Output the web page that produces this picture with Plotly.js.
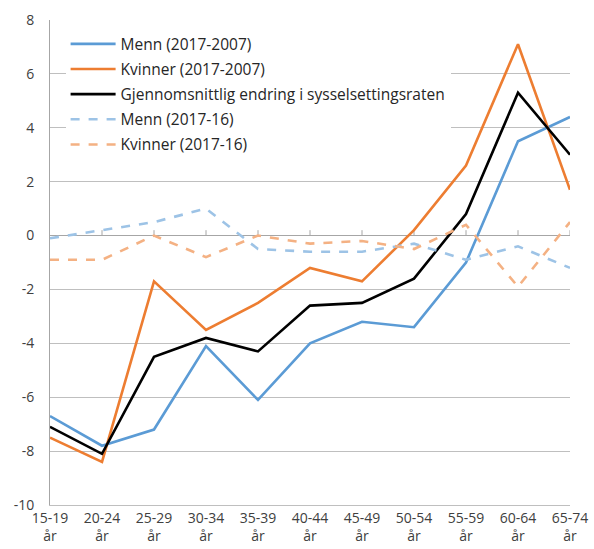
<!DOCTYPE html>
<html><head><meta charset="utf-8">
<script src="https://cdn.plot.ly/plotly-3.0.1.min.js"></script>
<style>html,body{margin:0;padding:0;background:#fff;}#chart{width:594px;height:549px;}</style>
</head><body><div id="chart"></div>
<script>
const categories = ["15-19<br>år","20-24<br>år","25-29<br>år","30-34<br>år","35-39<br>år","40-44<br>år","45-49<br>år","50-54<br>år","55-59<br>år","60-64<br>år","65-74<br>år"];
const menn0717 = [-6.7,-7.8,-7.2,-4.1,-6.1,-4.0,-3.2,-3.4,-1.0,3.5,4.4];
const kvinner0717 = [-7.5,-8.4,-1.7,-3.5,-2.5,-1.2,-1.7,0.2,2.6,7.1,1.7];
const gjennomsnitt = [-7.1,-8.1,-4.5,-3.8,-4.3,-2.6,-2.5,-1.6,0.8,5.3,3.0];
const menn1617 = [-0.1,0.2,0.5,1.0,-0.5,-0.6,-0.6,-0.3,-0.9,-0.4,-1.2];
const kvinner1617 = [-0.9,-0.9,0.0,-0.8,0.0,-0.3,-0.2,-0.5,0.4,-1.9,0.5];
const seriesNames = ["Menn (2017-2007)","Kvinner (2017-2007)","Gjennomsnittlig endring i sysselsettingsraten","Menn (2017-16)","Kvinner (2017-16)"];
const yTicks = [-10,-8,-6,-4,-2,0,2,4,6,8];
const yTickText = ["-10","-8","-6","-4","-2","0","2","4","6","8"];

const xs = categories.map((c,i)=>i);
const mk = (y,name,color,dash,w,g)=>({x:xs,y:y,name:name,type:'scatter',mode:'lines',legendgroup:g,
  line:{color:color,width:w,dash:dash},hoverinfo:'skip'});
const data = [
  mk(menn0717,seriesNames[0],'#5B9BD5','solid',2.6,'a'),
  mk(kvinner0717,seriesNames[1],'#ED7D31','solid',2.6,'b'),
  mk(gjennomsnitt,seriesNames[2],'#000000','solid',2.6,'c'),
  mk(menn1617,seriesNames[3],'#9DC3E6','dash',2.6,'d'),
  mk(kvinner1617,seriesNames[4],'#F4B183','dash',2.6,'e')
];
const shapes = xs.slice(1).map(i=>({type:'line',xref:'x',yref:'y',x0:i,x1:i,y0:0,y1:0.2,
  line:{color:'#a6a6a6',width:1},layer:'below'}));
const layout = {
  width:594,height:549,
  margin:{l:50,r:24,t:20,b:44},
  paper_bgcolor:'#fff',plot_bgcolor:'#fff',
  font:{family:'"Open Sans", "Noto Sans", sans-serif',size:14,color:'#404040'},
  showlegend:true,
  legend:{x:0.03,y:0.985,xanchor:'left',yanchor:'top',bgcolor:'#fff',borderwidth:0,
    font:{size:15.5,color:'#262626'},tracegroupgap:2,itemwidth:45},
  xaxis:{range:[0,10],tickmode:'array',tickvals:xs,ticktext:categories,showgrid:false,
    zeroline:false,showline:true,linecolor:'#bfbfbf',linewidth:1,ticks:'',fixedrange:true,
    tickfont:{size:14,color:'#404040'}},
  yaxis:{range:[-10,8],tickmode:'array',tickvals:yTicks,ticktext:yTickText,showgrid:true,gridcolor:'#bfbfbf',gridwidth:1,
    zeroline:true,zerolinecolor:'#a6a6a6',zerolinewidth:1,showline:true,linecolor:'#a6a6a6',linewidth:1,
    ticks:'',ticklabelstandoff:12,tickfont:{size:14,color:'#404040'}},
  shapes:shapes
};
Plotly.newPlot('chart',data,layout,{staticPlot:true,displayModeBar:false});
</script></body></html>
